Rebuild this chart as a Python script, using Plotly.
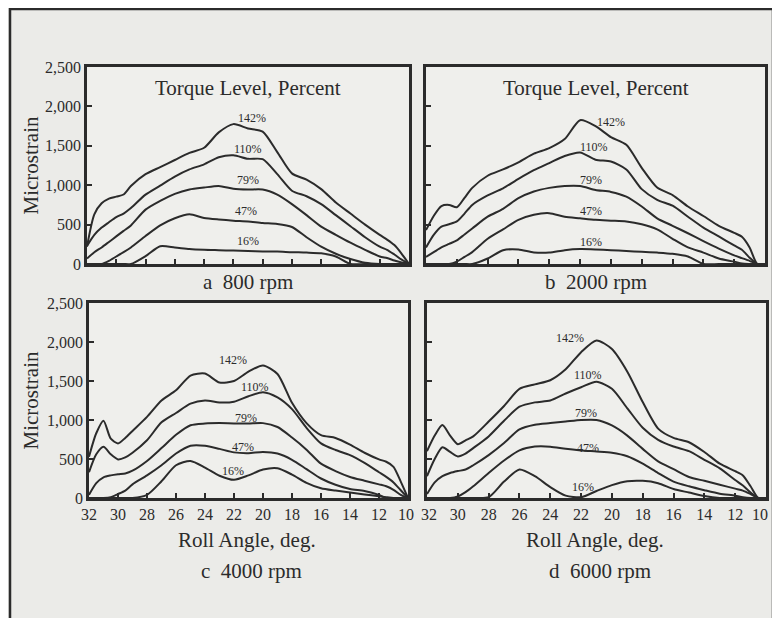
import plotly.graph_objects as go

# the page puts the figure 8 px in from the window's corner, so the figure is
# 8 px smaller than the 780x618 window and every pixel position is shifted
OFF = 8
W, H = 780 - OFF, 618 - OFF
INK = "#2b2b2b"
SERIF = "Liberation Serif, Times New Roman, serif"
NBSP = "\u00a0"

# roll angle grid (deg.), shared by every curve
ANGLES = [32, 31.5, 31, 30.5, 30, 29.5, 29, 28, 27, 26, 25, 24, 23, 22, 21,
          20, 19, 18, 17, 16, 15, 14, 13, 12, 11.5, 11, 10.5, 10]

TORQUE_LEVELS = ["142%", "110%", "79%", "47%", "16%"]

# a  800 rpm
a_142 = [220, 630, 770, 830, 855, 882, 990, 1140, 1230, 1320, 1410, 1475, 1670, 1775, 1720,
         1680, 1420, 1150, 1070, 950, 780, 640, 500, 370, 310, 240, 130, 0]
a_110 = [230, 370, 462, 530, 595, 640, 710, 880, 995, 1110, 1200, 1265, 1355, 1380, 1335,
         1330, 1140, 930, 860, 760, 620, 480, 340, 220, 180, 120, 55, 0]
a_79 = [70, 150, 210, 280, 350, 420, 490, 690, 800, 890, 945, 970, 990, 955, 945,
        945, 880, 760, 620, 475, 370, 270, 180, 95, 75, 45, 20, 0]
a_47 = [0, 0, 0, 40, 95, 150, 210, 355, 490, 580, 630, 585, 565, 550, 540,
        520, 508, 470, 340, 220, 130, 63, 15, 0, 0, 0, 0, 0]
a_16 = [0, 0, 0, 0, 0, 0, 0, 100, 225, 210, 190, 180, 175, 170, 165,
        160, 158, 150, 145, 135, 95, 0, 0, 0, 0, 0, 0, 0]

# b  2000 rpm
b_142 = [430, 610, 735, 750, 720, 840, 966, 1120, 1200, 1290, 1400, 1470, 1585, 1825, 1750,
         1610, 1512, 1220, 970, 875, 730, 609, 485, 395, 345, 210, 0, 0]
b_110 = [210, 370, 475, 504, 540, 640, 750, 870, 960, 1080, 1190, 1281, 1370, 1415, 1323,
         1300, 1200, 950, 815, 740, 600, 462, 350, 235, 180, 80, 0, 0]
b_79 = [90, 150, 210, 255, 300, 375, 450, 600, 700, 835, 920, 966, 990, 990, 940,
        915, 855, 730, 580, 485, 390, 290, 195, 110, 75, 40, 0, 0]
b_47 = [0, 0, 0, 0, 30, 90, 150, 320, 440, 560, 625, 645, 600, 580, 560,
        550, 540, 505, 440, 320, 210, 145, 70, 30, 5, 0, 0, 0]
b_16 = [0, 0, 0, 0, 0, 0, 0, 70, 175, 185, 147, 145, 175, 189, 185,
        176, 165, 155, 145, 130, 95, 0, 0, 0, 0, 0, 0, 0]

# c  4000 rpm
c_142 = [530, 830, 990, 760, 700, 770, 860, 1040, 1250, 1380, 1570, 1595, 1480, 1500, 1620,
         1700, 1590, 1220, 960, 806, 770, 685, 580, 495, 465, 400, 210, 0]
c_110 = [330, 560, 657, 560, 495, 520, 580, 740, 970, 1090, 1210, 1250, 1225, 1235, 1305,
         1357, 1290, 1140, 900, 700, 615, 550, 450, 330, 270, 200, 100, 0]
c_79 = [40, 190, 265, 290, 305, 315, 350, 475, 640, 810, 933, 955, 960, 955, 955,
        960, 910, 775, 620, 440, 345, 270, 222, 175, 150, 105, 40, 0]
c_47 = [0, 0, 0, 10, 50, 95, 175, 290, 420, 570, 670, 670, 630, 585, 575,
        590, 570, 490, 370, 250, 170, 115, 90, 40, 0, 0, 0, 0]
c_16 = [0, 0, 0, 0, 0, 0, 0, 40, 215, 420, 475, 390, 285, 233, 290,
        365, 382, 300, 195, 125, 95, 70, 45, 22, 10, 0, 0, 0]

# d  6000 rpm
d_142 = [600, 800, 935, 800, 690, 740, 790, 980, 1180, 1400, 1457, 1510, 1650, 1870, 2020,
         1910, 1620, 1230, 890, 770, 715, 590, 440, 344, 290, 150, 0, 0]
d_110 = [280, 500, 650, 590, 533, 570, 640, 790, 990, 1170, 1226, 1250, 1340, 1420, 1490,
         1400, 1150, 900, 745, 660, 600, 490, 380, 231, 160, 70, 0, 0]
d_79 = [50, 200, 280, 320, 345, 365, 420, 550, 705, 880, 940, 960, 980, 1000, 1000,
        930, 800, 630, 470, 370, 270, 220, 170, 120, 95, 50, 0, 0]
d_47 = [0, 0, 0, 0, 20, 75, 150, 320, 480, 610, 659, 658, 630, 610, 596,
        580, 535, 440, 320, 210, 150, 100, 55, 30, 10, 0, 0, 0]
d_16 = [0, 0, 0, 0, 0, 0, 0, 10, 210, 365, 280, 140, 30, 10, 90,
        165, 215, 220, 190, 115, 70, 25, 0, 0, 0, 0, 0, 0]

X_TICKS = [32, 30, 28, 26, 24, 22, 20, 18, 16, 14, 12, 10]
X_TICK_TEXT = ["32", "30", "28", "26", "24", "22", "20", "18", "16", "14", "12", "10"]
Y_TICKS = [0, 500, 1000, 1500, 2000, 2500]
Y_TICK_TEXT = ["0", "500", "1,000", "1,500", "2,000", "2,500"]

panels = [
    # key, curves, caption, x px span, y px span, label spots (angle, microstrain)
    ("a", [a_142, a_110, a_79, a_47, a_16], "a  800 rpm", (87, 409), (67, 264),
     [(20.7, 1848), (21.0, 1462), (21.0, 1071), (21.15, 672), (21.0, 294)]),
    ("b", [b_142, b_110, b_79, b_47, b_16], "b  2000 rpm", (426, 765), (67, 264),
     [(20.0, 1806), (21.1, 1491), (21.3, 1071), (21.3, 672), (21.3, 273)]),
    ("c", [c_142, c_110, c_79, c_47, c_16], "c  4000 rpm", (89, 408), (303, 498),
     [(22.05, 1772), (20.55, 1429), (21.2, 1030), (21.35, 649), (22.05, 352)]),
    ("d", [d_142, d_110, d_79, d_47, d_16], "d  6000 rpm", (427, 766), (303, 498),
     [(22.7, 2045), (21.55, 1571), (21.65, 1092), (21.55, 638), (21.9, 143)]),
]

# nbsp padding that nudges the end labels inwards (first, last), as in the print
END_PAD = {"a": (0, 0), "b": (0, 0), "c": (0, 1), "d": (1, 3)}


def px_x(x):
    return (x - OFF) / W


def px_y(y):
    return 1 - (y - OFF) / H


def paper_text(x, y, text, size=21, angle=0):
    return dict(x=px_x(x), y=px_y(y), xref="paper", yref="paper", text=text,
                showarrow=False, xanchor="center", yanchor="middle", textangle=angle,
                font=dict(family=SERIF, size=size, color=INK))


fig = go.Figure()
annotations = []

for i, (key, curves, caption, xs, ys, spots) in enumerate(panels):
    n = "" if i == 0 else str(i + 1)
    bottom_row = key in ("c", "d")
    left_col = key in ("a", "c")

    for vals in curves:
        fig.add_trace(go.Scatter(
            x=ANGLES, y=vals, mode="lines",
            line=dict(color=INK, width=2, shape="spline", smoothing=0.7),
            xaxis="x" + n, yaxis="y" + n, showlegend=False, hoverinfo="skip",
        ))

    pad_first, pad_last = END_PAD[key]
    x_text = list(X_TICK_TEXT)
    x_text[0] = NBSP * pad_first + x_text[0]
    x_text[-1] = x_text[-1] + NBSP * pad_last

    fig.update_layout(**{
        "xaxis" + n: dict(
            domain=[px_x(xs[0]), px_x(xs[1])], range=[32, 10], anchor="y" + n,
            showline=True, mirror=True, linecolor=INK, linewidth=2.5,
            ticks="inside", ticklen=5, tickwidth=2, tickcolor=INK,
            tickvals=X_TICKS, ticktext=x_text, showticklabels=bottom_row,
            ticklabeloverflow="allow",
            tickfont=dict(family=SERIF, size=16, color=INK),
            showgrid=False, zeroline=False, automargin=False,
        ),
        "yaxis" + n: dict(
            domain=[px_y(ys[1]), px_y(ys[0])], range=[0, 2500], anchor="x" + n,
            showline=True, mirror=True, linecolor=INK, linewidth=2.5,
            ticks="inside", ticklen=5, tickwidth=2, tickcolor=INK,
            tickvals=Y_TICKS, ticktext=Y_TICK_TEXT, showticklabels=left_col,
            tickfont=dict(family=SERIF, size=16, color=INK),
            showgrid=False, zeroline=False, automargin=False,
        ),
    })

    # torque level tags on the curves
    for level, (ang, val) in zip(TORQUE_LEVELS, spots):
        annotations.append(dict(
            x=ang, y=val, xref="x" + n, yref="y" + n, text=level, showarrow=False,
            xanchor="center", yanchor="middle",
            font=dict(family=SERIF, size=12, color=INK),
        ))

    cx = (xs[0] + xs[1]) / 2
    if bottom_row:
        annotations.append(paper_text(cx - 2, 540, "Roll Angle, deg."))
        annotations.append(paper_text(cx + 3, 571, caption))
    else:
        annotations.append(paper_text(cx, 88, "Torque Level, Percent"))
        annotations.append(paper_text(cx, 282, caption))
    if left_col:
        annotations.append(paper_text(30, (ys[0] + ys[1]) / 2, "Microstrain", angle=-90))

# outer frame of the figure
fig.add_shape(type="rect", xref="paper", yref="paper",
              x0=px_x(10), x1=px_x(773), y0=-0.05, y1=px_y(9),
              line=dict(color=INK, width=2.5))

fig.update_layout(
    width=W, height=H,
    margin=dict(l=0, r=0, t=0, b=0),
    paper_bgcolor="#ebebe8",
    plot_bgcolor="#efefec",
    annotations=annotations,
    showlegend=False,
)

fig.write_html("out.html")
